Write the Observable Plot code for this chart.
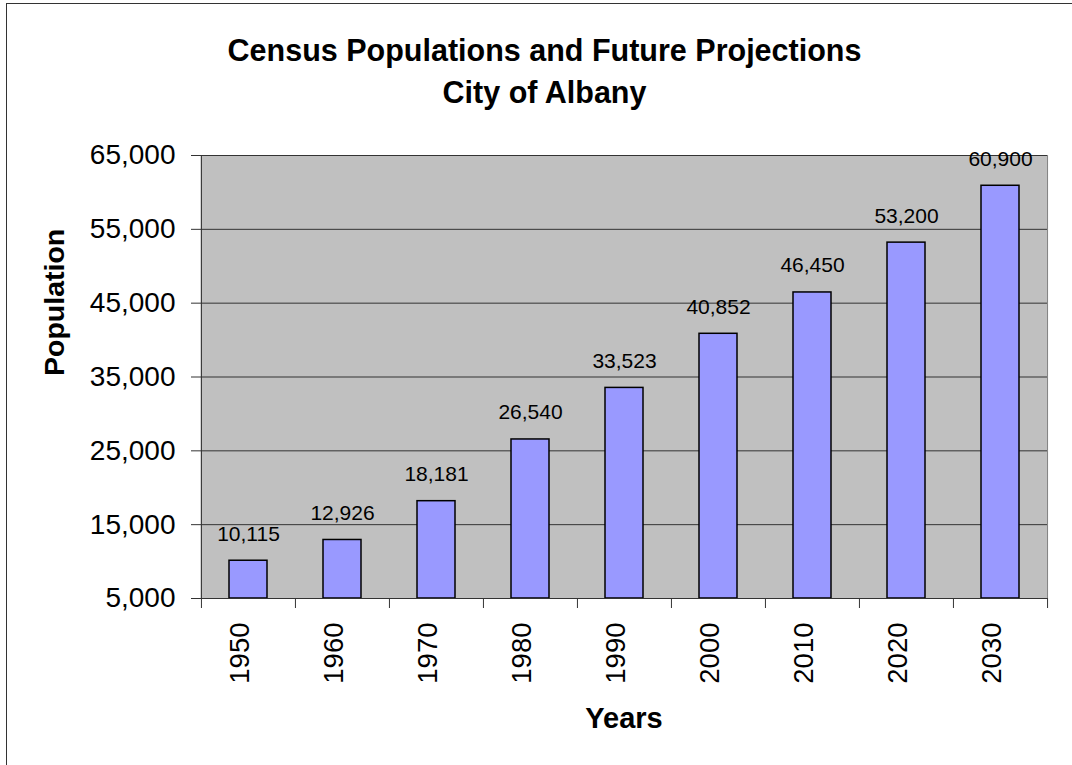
<!DOCTYPE html>
<html>
<head>
<meta charset="utf-8">
<script src="https://cdn.jsdelivr.net/npm/d3@7"></script>
<script src="https://cdn.jsdelivr.net/npm/@observablehq/plot@0.6"></script>
<style>
  html, body { margin: 0; padding: 0; background: #fff; overflow: hidden; }
  #wrap { position: relative; width: 1072px; height: 765px; overflow: hidden; }
  #border { position: absolute; left: 6px; top: 3px; width: 1200px; height: 900px;
            border: 1.5px solid #333; box-sizing: border-box; pointer-events: none; }
</style>
</head>
<body>
<div id="wrap"><div id="chart"></div><div id="border"></div></div>
<script>
const years = ["1950", "1960", "1970", "1980", "1990", "2000", "2010", "2020", "2030"];
const population = [10115, 12926, 18181, 26540, 33523, 40852, 46450, 53200, 60900];
const yTicks = [5000, 15000, 25000, 35000, 45000, 55000, 65000];
const titleLines = ["Census Populations and Future Projections", "City of Albany"];
const xTitle = "Years";
const yTitle = "Population";

const data = years.map((year, i) => ({year, pop: population[i]}));

const W = 1072, H = 765, mL = 200, mR = 25, mT = 155, mB = 167;
const step = (W - mL - mR) / years.length;
const plotH = H - mT - mB;
const font = "'Liberation Sans', Arial, sans-serif";
const fmt = d3.format(",");

const chart = Plot.plot({
  width: W,
  height: H,
  marginLeft: mL,
  marginRight: mR,
  marginTop: mT,
  marginBottom: mB,
  style: {fontFamily: font, color: "#000", background: "transparent", overflow: "visible"},
  x: {domain: years, paddingInner: 0.6, paddingOuter: 0.3, axis: null},
  y: {domain: [yTicks[0], yTicks[yTicks.length - 1]], axis: null},
  marks: [
    Plot.frame({fill: "#C0C0C0", stroke: null}),
    Plot.ruleY(yTicks.slice(1), {stroke: "#333", strokeWidth: 1}),
    // right edge of plot area
    Plot.ruleX([years[years.length - 1]], {dx: step / 2, stroke: "#808080", strokeWidth: 1}),
    Plot.barY(data, {x: "year", y1: yTicks[0], y2: "pop", fill: "#9999FF", stroke: "#000", strokeWidth: 1.5}),
    // left axis line
    Plot.ruleX([years[0]], {dx: -step / 2, stroke: "#333", strokeWidth: 1}),
    // bottom axis line
    Plot.ruleY([yTicks[0]], {stroke: "#333", strokeWidth: 1}),
    // x tick marks at category boundaries
    Plot.ruleX(years, {x: d => d, dx: -step / 2, insetTop: plotH, insetBottom: -10, stroke: "#333"}),
    Plot.ruleX([years[years.length - 1]], {x: d => d, dx: step / 2, insetTop: plotH, insetBottom: -10, stroke: "#333"}),
    Plot.axisY({ticks: yTicks, tickFormat: fmt, tickSize: 9, tickPadding: 16, fontSize: 28, label: null, stroke: "#333", fill: "#000"}),
    // x tick labels (rotated)
    Plot.text(years, {x: d => d, text: d => d, rotate: -90, textAnchor: "end", frameAnchor: "bottom", dy: 24, fontSize: 27.5, fill: "#000"}),
    // value labels
    Plot.text(data, {x: "year", y: "pop", text: d => fmt(d.pop), lineAnchor: "bottom", dy: -20, fontSize: 21, fill: "#000"}),
    // titles
    Plot.text([titleLines[0]], {frameAnchor: "top", text: d => d, dx: 544 - (mL + W - mR) / 2, dy: -95, lineAnchor: "bottom", fontSize: 30.5, fontWeight: "bold", fill: "#000"}),
    Plot.text([titleLines[1]], {frameAnchor: "top", text: d => d, dx: 544 - (mL + W - mR) / 2, dy: -53, lineAnchor: "bottom", fontSize: 30.5, fontWeight: "bold", fill: "#000"}),
    // axis titles
    Plot.text([xTitle], {frameAnchor: "bottom", text: d => d, dy: 129, lineAnchor: "bottom", fontSize: 29, fontWeight: "bold", fill: "#000"}),
    Plot.text([yTitle], {frameAnchor: "left", text: d => d, dx: -137, dy: -1, rotate: -90, lineAnchor: "bottom", fontSize: 28.5, fontWeight: "bold", fill: "#000"})
  ]
});
document.getElementById("chart").appendChild(chart);
</script>
</body>
</html>
